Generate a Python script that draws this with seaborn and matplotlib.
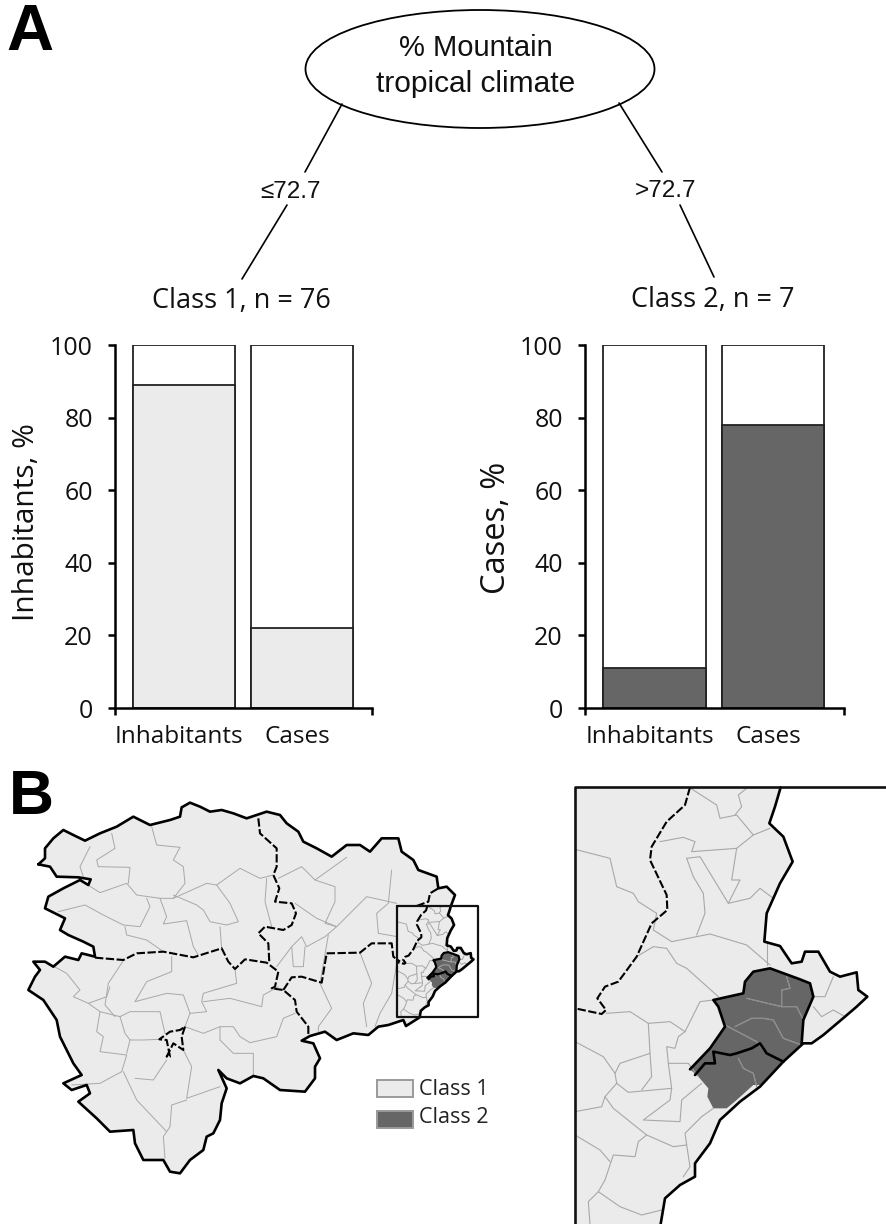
import matplotlib.pyplot as plt
import seaborn as sns
import pandas as pd
from matplotlib.patches import Ellipse, Polygon
from matplotlib.ticker import FixedLocator
from matplotlib.transforms import ScaledTranslation

# ---- chart data ----
categories = ["Inhabitants", "Cases"]
class1_values = [89, 22]
class2_values = [11, 78]
totals = [100, 100]
y_ticks = [0, 20, 40, 60, 80, 100]

# ---- map outlines (overview crop units) ----
outline_north = [(115,283),(135,265),(135,235),(160,205),(190,180),(220,195),(255,212),(300,190),(350,170),(400,140),
                 (450,165),(510,150),(540,140),(545,112),(570,98),(600,110),(630,125),(665,120),(700,130),(740,145),
                 (770,135),(800,125),(840,135),(860,160),(895,185),(910,215),(950,235),(995,260),(1040,225),(1080,225),
                 (1110,245),(1145,205),(1195,205),(1205,245),(1240,270),(1255,300),(1310,320),(1315,355),(1340,350),
                 (1365,375)]
outline_south = [(1218,768),(1210,750),(1165,765),(1135,770),
                 (1105,795),(1060,790),(1010,810),(975,785),(930,798),(905,812),(940,820),(960,865),(945,890),(945,925),
                 (915,965),(840,960),(790,925),(760,918),(720,940),(680,925),(655,900),(680,955),(665,1000),(660,1050),
                 (640,1090),(620,1100),(610,1140),(570,1170),(540,1210),(510,1205),(490,1170),(430,1170),(405,1120),
                 (400,1080),(330,1085),(290,1045),(235,995),(270,970),(260,945),(215,960),(190,940),(245,915),(220,880),
                 (180,800),(170,750),(130,690),(85,660),(105,620),(120,600),(100,575),(135,575),(160,590),(195,560),
                 (235,570),(245,550),(285,560),(280,530),(250,515),(205,495),(180,480),(195,445),(165,430),(135,415),
                 (145,380),(190,355),(240,330),(265,345),(272,328),(235,322),(170,320),(150,290)]
dashed_borders = [
    [(285,563),(370,570),(410,550),(490,545),(580,562),(665,535),(685,575),(705,597),(735,568),(800,578),(835,605),
     (825,650),(815,655),(850,660),(885,690),(890,725),(925,770),(925,798)],
    [(775,145),(780,190),(830,235),(830,290),(820,315),(838,355),(825,395),(875,400),(888,430),(875,465),(850,480),
     (795,470),(775,490),(805,520),(808,580)],
    [(850,660),(875,622),(905,620),(965,638),(980,550),(1080,548),(1115,520),(1175,520),(1180,560),(1200,575)],
    [(1250,408),(1285,395),(1290,370),(1315,355)],
    [(555,770),(545,800),(550,840),(520,820),(500,860),(510,860),(500,810),(478,808),(510,785),(540,780),(555,770)],
]
thin_borders = [
    [(455,170),(470,225),(540,232),(520,270),(550,290),(555,340),(520,385),(480,385),(410,375),(380,340),(300,368),(240,330)],
    [(335,190),(345,235),(290,270),(295,290),(390,292),(385,340)],
    [(270,230),(240,290),(250,320)],
    [(520,385),(620,340),(650,345),(720,295),(780,325),(820,315)],
    [(650,345),(690,400),(715,455),(680,465),(630,455),(610,420),(590,405),(520,375)],
    [(480,385),(500,440),(490,462),(560,452),(580,530),(595,555)],
    [(440,385),(450,410),(420,470),(370,465),(310,435),(255,405),(175,425)],
    [(375,470),(380,495),(440,510),(490,545)],
    [(660,470),(665,535)],
    [(800,325),(795,395),(815,470)],
    [(835,325),(905,290),(945,330),(1040,262)],
    [(945,330),(1005,350),(1005,395),(975,460),(1010,470),(1100,380),(1190,400)],
    [(885,400),(950,445),(1010,470),(975,500),(920,530),(905,500),(875,530),(830,590)],
    [(875,530),(880,590),(910,590),(915,530)],
    [(985,495),(960,640),(995,715),(955,770),(955,785)],
    [(1080,548),(1115,640),(1090,700),(1100,770)],
    [(1175,300),(1165,400),(1130,430),(1135,490),(1192,500)],
    [(1192,570),(1175,670),(1140,730),(1125,770)],
    [(370,572),(325,640),(315,705),(345,740)],
    [(515,560),(515,605),(440,635),(405,695),(500,670),(550,675),(570,730),(555,770)],
    [(705,597),(710,640),(610,670),(605,695),(620,725),(570,730)],
    [(610,695),(690,685),(785,710),(790,675),(835,650)],
    [(885,730),(850,745),(830,800),(750,818),(720,800),(700,770),(660,770),(660,810)],
    [(555,770),(610,790),(660,770)],
    [(660,810),(700,850),(760,850),(760,918)],
    [(550,840),(575,890),(560,985),(660,950)],
    [(560,990),(515,1005),(510,1070),(490,1100),(495,1165)],
    [(370,905),(410,990),(500,1085)],
    [(405,925),(460,930),(500,870)],
    [(360,740),(300,725),(290,785),(310,800),(300,845),(380,855),(365,905),(300,940),(215,945)],
    [(360,740),(390,725),(480,725),(495,790)],
    [(360,740),(375,790),(390,810),(380,850)],
    [(390,810),(430,810),(478,808)],
    [(220,680),(240,660),(200,610),(135,575)],
    [(220,680),(265,700),(300,725)],
    [(265,700),(320,680),(330,650)],
]

# ---- enlarged inset (inset crop units) ----
inset_coast = [(632,22),(615,80),(598,130),(640,170),(668,245),(630,310),(590,400),(583,485),(630,498),(665,550),
               (695,545),(705,515),(745,515),(780,575),(810,590),(860,577),(865,630),(892,650),(860,680),(825,710),
               (760,765),(725,790),(700,790),(640,845),(570,920),(510,965),(450,1020),(420,1090),(375,1150),(375,1190),
               (330,1215),(285,1255),(272,1332)]
inset_dark = [(360,868),(420,805),(465,740),(445,680),(430,660),(520,640),(525,605),(550,575),(600,565),(690,598),
              (720,610),(730,650),(700,720),(695,790),(640,845),(575,915),(550,915),(500,960),(470,985),(430,985),
              (412,950),(415,925),(385,890)]
inset_north_edge = [(360,868),(420,805),(465,740),(445,680),(430,660),(520,640),(525,605),(550,575),(600,565),
                    (690,598),(720,610),(730,650),(700,720),(695,790)]
inset_split = [(375,885),(405,850),(435,850),(430,815),(480,825),(500,820),(545,805),(570,790),(590,820),(640,845)]
inset_dashed = [(360,22),(345,75),(290,125),(245,200),(240,240),(290,345),(292,390),(245,430),(200,530),(145,605),
                (105,620),(82,655),(108,690),(95,702),(15,685)]
inset_thin = [
    [(15,208),(120,235),(140,320),(190,340),(205,365),(260,400),(250,450),(305,485),(420,462),(530,495),(600,555)],
    [(362,25),(440,75),(450,115),(500,105),(550,165),(600,145)],
    [(530,25),(505,45),(515,80),(495,105)],
    [(270,185),(340,172),(375,185),(365,215),(500,205),(550,165)],
    [(500,205),(485,300),(510,300),(475,370),(540,355),(570,325),(610,355)],
    [(350,235),(390,230),(475,370)],
    [(350,235),(370,290),(400,340),(405,400),(380,465)],
    [(200,530),(250,500),(290,505),(320,550),(350,565),(445,650)],
    [(108,700),(180,695),(235,730),(240,820),(150,850),(135,880),(140,910)],
    [(235,730),(300,725),(345,755),(390,665),(430,660)],
    [(345,755),(325,770),(315,805),(290,800),(295,850),(305,925)],
    [(295,850),(355,850),(385,890)],
    [(240,820),(245,890),(215,930)],
    [(15,785),(100,830),(135,880)],
    [(140,910),(175,937),(305,925),(300,960),(220,1020),(330,1025),(335,960),(395,910)],
    [(140,910),(105,950),(95,980),(15,995)],
    [(105,950),(130,985),(230,1065),(310,1100),(350,1095),(345,1060),(395,1010),(430,985)],
    [(230,1065),(205,1085),(195,1130),(130,1125),(105,1200),(85,1235),(150,1280),(215,1305),(275,1290)],
    [(15,1065),(90,1110),(120,1145)],
    [(350,1095),(360,1160),(340,1190)],
    [(85,1235),(55,1265),(60,1332)],
    [(590,490),(590,555)],
    [(790,590),(765,650),(730,650)],
    [(730,680),(755,710),(790,690),(825,710)],
    [(650,590),(660,625),(635,630),(635,680),(680,680),(700,720)],
    [(530,655),(635,680)],
    [(465,735),(560,785),(590,820)],
    [(495,740),(545,715),(580,715),(610,720),(640,775),(695,795)],
    [(505,835),(520,865),(550,880),(560,920)],
]

W, H = 886, 1224
DARK = "#666666"
LIGHT = "#ebebeb"
MALGUN = "Open Sans"
ARIAL = "Liberation Sans"

sns.set_theme(style="white")
plt.rcParams["font.family"] = [MALGUN, "DejaVu Sans"]
fig = plt.figure(figsize=(W / 100, H / 100), dpi=100, facecolor="white")


def px_axes(left, top, right, bottom):
    return fig.add_axes([left / W, 1 - bottom / H, (right - left) / W, (bottom - top) / H])


def to_overview(points):
    # the inset box sits at 1192..1435 x 408..742 in overview units
    return [(1192 + (x - 15) * 0.2605, 408 + (y - 22) * 0.255) for x, y in points]


# ---- tree ----
page = px_axes(0, 0, W, H)
page.set_xlim(0, W)
page.set_ylim(H, 0)
page.axis("off")
page.add_patch(Ellipse((480, 69), 349, 118, fc="white", ec="black", lw=1.3))
page.text(476, 48, "% Mountain", family=ARIAL, fontsize=21, ha="center", va="center", color="#111111")
page.text(476, 84, "tropical climate", family=ARIAL, fontsize=21.5, ha="center", va="center", color="#111111")
page.plot([342, 305], [104, 172], color="black", lw=1.2)
page.plot([287, 242], [205, 279], color="black", lw=1.2)
page.plot([619, 662], [103, 172], color="black", lw=1.2)
page.plot([680, 714], [205, 277], color="black", lw=1.2)
page.text(291, 192, "≤72.7", family=ARIAL, fontsize=17.5, ha="center", va="center", color="#111111")
page.text(666, 191, ">72.7", family=ARIAL, fontsize=17.5, ha="center", va="center", color="#111111")
page.text(241, 301, "Class 1, n = 76", fontsize=19.5, ha="center", va="center", color="#111111")
page.text(713, 300, "Class 2, n = 7", fontsize=19.5, ha="center", va="center", color="#111111")
page.text(6, 33, "A", family=ARIAL, weight="bold", fontsize=47, ha="left", va="center", color="black")
page.text(9, 797, "B", family=ARIAL, weight="bold", fontsize=45, ha="left", va="center", color="black")


# ---- bar panels ----
def bar_panel(left, right, xlim, values, fill, ylabel, label_size, label_x, label_y):
    ax = px_axes(left, 345, right, 708)
    df = pd.DataFrame({"group": categories, "total": totals, "share": values})
    sns.barplot(data=df, x="group", y="total", color="white", saturation=1, width=0.864,
                edgecolor="#222222", linewidth=1.3, ax=ax)
    sns.barplot(data=df, x="group", y="share", color=fill, saturation=1, width=0.864,
                edgecolor="#222222", linewidth=1.3, ax=ax)
    ax.set_xlim(*xlim)
    ax.set_ylim(0, 100)
    ax.set_yticks(y_ticks)
    ax.set_xlabel("")
    ax.set_ylabel(ylabel, fontsize=label_size, color="#111111")
    ax.yaxis.set_label_coords((label_x - left) / (right - left), (708 - label_y) / 363)
    for side in ["top", "right"]:
        ax.spines[side].set_visible(False)
    for side in ["left", "bottom"]:
        ax.spines[side].set_color("black")
        ax.spines[side].set_linewidth(1.8)
    ax.tick_params(axis="y", length=5, width=1.8, color="black", labelsize=18, labelcolor="#111111", pad=11,
                   left=True)
    ax.tick_params(axis="x", which="major", length=0, labelsize=17.5, labelcolor="#111111", pad=12)
    ax.xaxis.set_minor_locator(FixedLocator(list(xlim)))
    ax.tick_params(axis="x", which="minor", length=5, width=1.8, color="black", bottom=True)
    shift = ScaledTranslation(-5 / 100, 0, fig.dpi_scale_trans)
    for label in ax.get_xticklabels():
        label.set_transform(label.get_transform() + shift)
    return ax


bar_panel(115, 372, (-0.585, 1.593), class1_values, LIGHT, "Inhabitants, %", 21.5, 41, 522)
bar_panel(585, 844, (-0.588, 1.600), class2_values, DARK, "Cases, %", 23.5, 513, 528)

# ---- overview map ----
outline = outline_north + to_overview(inset_coast) + outline_south
m = px_axes(0, 770, 500, 1224)
m.set_xlim(0, 1500)
m.set_ylim(1362, 0)
m.axis("off")
m.add_patch(Polygon(outline, closed=True, fc=LIGHT, ec="none"))
for line in thin_borders + [to_overview(part) for part in inset_thin]:
    xs, ys = zip(*line)
    m.plot(xs, ys, color="#a8a8a8", lw=0.7)
m.add_patch(Polygon(to_overview(inset_dark), closed=True, fc=DARK, ec="none"))
for line in dashed_borders + [to_overview(inset_dashed)]:
    xs, ys = zip(*line)
    m.plot(xs, ys, color="black", lw=1.5, dashes=(4, 1.2))
xs, ys = zip(*(outline + outline[:1]))
m.plot(xs, ys, color="black", lw=1.9)
for line in [inset_north_edge, inset_split]:
    xs, ys = zip(*to_overview(line))
    m.plot(xs, ys, color="black", lw=1.6)
m.plot([1192, 1435, 1435, 1192, 1192], [408, 408, 742, 742, 408], color="#111111", lw=1.6)
m.add_patch(Polygon([(1130,930),(1240,930),(1240,980),(1130,980)], closed=True, fc=LIGHT, ec="#9a9a9a", lw=1.4))
m.add_patch(Polygon([(1130,1022),(1240,1022),(1240,1074),(1130,1074)], closed=True, fc=DARK, ec="#9a9a9a", lw=1.4))
m.text(1257, 958, "Class 1", fontsize=15.5, ha="left", va="center", color="#222222")
m.text(1257, 1042, "Class 2", fontsize=15.5, ha="left", va="center", color="#222222")

# ---- enlarged map ----
z = px_axes(570, 780, 886, 1224)
z.set_xlim(0, 948)
z.set_ylim(1332, 0)
z.axis("off")
z.add_patch(Polygon([(15, 1332), (15, 22)] + inset_coast, closed=True, fc=LIGHT, ec="none"))
for line in inset_thin:
    xs, ys = zip(*line)
    z.plot(xs, ys, color="#a8a8a8", lw=0.8)
z.add_patch(Polygon(inset_dark, closed=True, fc=DARK, ec="none"))
for line in inset_thin[-5:]:
    xs, ys = zip(*line)
    z.plot(xs, ys, color="#8a8a8a", lw=0.7)
xs, ys = zip(*inset_dashed)
z.plot(xs, ys, color="black", lw=1.5, dashes=(4, 1.2))
xs, ys = zip(*inset_coast)
z.plot(xs, ys, color="black", lw=1.9)
for line in [inset_north_edge, inset_split]:
    xs, ys = zip(*line)
    z.plot(xs, ys, color="black", lw=1.9)
z.plot([948, 15, 15], [22, 22, 1332], color="#111111", lw=1.9)

fig.savefig("out.png", dpi=100)
